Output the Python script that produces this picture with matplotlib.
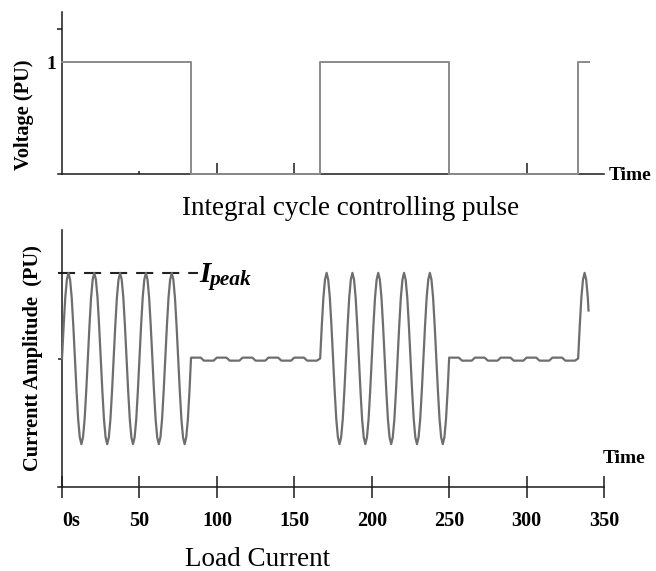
import matplotlib

matplotlib.use("Agg")
import matplotlib.pyplot as plt

plt.rcParams["font.family"] = ["Liberation Serif", "DejaVu Serif"]

# switching instants of the integral-cycle pulse (ms) and its level in each interval
PULSE_EDGES = [0, 83.3, 166.7, 250.0, 333.3, 340.0]
PULSE_LEVELS = [1, 0, 1, 0, 1]

PERIOD = 16.67  # one supply cycle
# one cycle of load current while the pulse is on (pu of I_peak)
ON_CYCLE = [0.0, 0.38, 0.71, 0.92, 1.0, 0.92, 0.71, 0.38,
            0.0, -0.38, -0.71, -0.92, -1.0, -0.92, -0.71, -0.38]
# small ripple on the flat part while the pulse is off
OFF_CYCLE = [0.01, 0.01, 0.01, 0.01, -0.025, -0.025, -0.025, -0.025]
LAST_VALUE = (340.0, 0.56)

TICKS = [0, 50, 100, 150, 200, 250, 300, 350]
TICK_LABELS = ["0s", "50", "100", "150", "200", "250", "300", "350"]

W, H = 656, 571
AXIS = "#1a1a1a"


def current_wave():
    ts, vals = [], []
    for start, end, on in zip(PULSE_EDGES[:-1], PULSE_EDGES[1:], PULSE_LEVELS):
        shape = ON_CYCLE if on else OFF_CYCLE
        step = PERIOD / len(shape)
        k = 0
        while start + k * step < end - 0.3:
            ts.append(start + k * step)
            vals.append(shape[k % len(shape)])
            k += 1
    ts.append(LAST_VALUE[0])
    vals.append(LAST_VALUE[1])
    return ts, vals


def style_axes(ax):
    for side in ("top", "right"):
        ax.spines[side].set_visible(False)
    for side in ("left", "bottom"):
        ax.spines[side].set_linewidth(1.1)
        ax.spines[side].set_color(AXIS)
    ax.spines["left"].set_position(("data", 0))
    ax.set_xlim(-2.6, 350)


fig = plt.figure(figsize=(W / 100, H / 100), dpi=100)

# ---- top: controlling pulse
ax1 = fig.add_axes([58 / W, (H - 174) / H, 546 / W, 162 / H])
style_axes(ax1)
ax1.set_ylim(0, 1.45)
ax1.step(PULSE_EDGES, PULSE_LEVELS + [PULSE_LEVELS[-1]], where="post",
         color="#8a8a8a", lw=1.4, zorder=3, clip_on=False)
ax1.set_yticks([1])
ax1.set_yticklabels(["1"], fontsize=14, fontweight="bold")
ax1.set_yticks([1.3], minor=True)
ax1.tick_params(axis="y", which="major", length=0, pad=4)
ax1.tick_params(axis="y", which="minor", length=3.6, width=1.1, color=AXIS)
ax1.set_xticks([100, 150, 300])
ax1.set_xticks([50], minor=True)
ax1.tick_params(axis="x", which="major", direction="in", length=8, width=1.1,
                color=AXIS, labelbottom=False)
ax1.tick_params(axis="x", which="minor", direction="in", length=2, width=1.1,
                color=AXIS)

# ---- bottom: load current
ax2 = fig.add_axes([58 / W, (H - 487) / H, 546 / W, 257 / H])
style_axes(ax2)
ax2.set_ylim(-1.5, 1.5)
t, i = current_wave()
ax2.plot(t, i, color="#6e6e6e", lw=1.6, zorder=3, clip_on=False)
ax2.plot([-2.6, 87.8], [1, 1], color="#222222", lw=1.5, dashes=(8.2, 4.3))
ax2.set_yticks([0])
ax2.set_yticklabels([])
ax2.tick_params(axis="y", length=3, width=1.1, color=AXIS)
ax2.set_xticks(TICKS)
ax2.set_xticklabels(TICK_LABELS, fontsize=14.5, fontweight="bold")
ax2.get_xticklabels()[0].set_horizontalalignment("left")
ax2.tick_params(axis="x", direction="inout", length=16, width=1.1, color=AXIS, pad=9)

# ---- text
fig.text(24 / W, 1 - 115 / H, "Voltage (PU)", rotation=90, ha="center", va="center",
         fontsize=14.7, fontweight="bold")
fig.text(33 / W, 1 - 358 / H, "Currentt Amplitude  (PU)", rotation=90, ha="center",
         va="center", fontsize=14.7, fontweight="bold")
fig.text(351 / W, 1 - 215 / H, "Integral cycle controlling pulse", ha="center",
         va="baseline", fontsize=19.5)
fig.text(185 / W, 1 - 566 / H, "Load Current", ha="left", va="baseline", fontsize=19.5)
fig.text(609 / W, 1 - 180 / H, "Time", ha="left", va="baseline", fontsize=14,
         fontweight="bold")
fig.text(603 / W, 1 - 463 / H, "Time", ha="left", va="baseline", fontsize=14,
         fontweight="bold")
fig.text(199 / W, 1 - 282 / H, "I", ha="left", va="baseline", fontsize=21,
         fontweight="bold", fontstyle="italic")
fig.text(210 / W, 1 - 285 / H, "peak", ha="left", va="baseline", fontsize=15.5,
         fontweight="bold", fontstyle="italic")

fig.savefig("out.png", dpi=100)
